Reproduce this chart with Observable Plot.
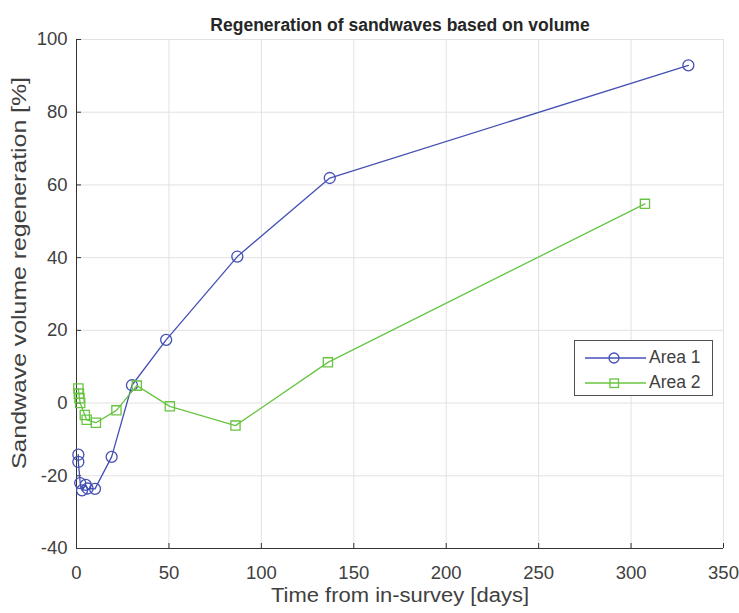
<!DOCTYPE html>
<html>
<head>
<meta charset="utf-8">
<script src="https://cdn.jsdelivr.net/npm/d3@7"></script>
<script src="https://cdn.jsdelivr.net/npm/@observablehq/plot@0.6"></script>
<style>
  html, body { margin: 0; padding: 0; background: #fff; }
  #wrap { position: relative; width: 739px; height: 613px; font-family: "Liberation Sans", Arial, sans-serif; }
  #legend { position: absolute; left: 574px; top: 340px; width: 139px; height: 56px; border: 1px solid #505050; background: #fff; box-sizing: border-box; }
  .row { position: absolute; left: 0; height: 20px; display: flex; align-items: center; font-size: 17.5px; color: #404040; }
  .row svg { margin-left: 10px; margin-right: 3px; }
</style>
</head>
<body>
<div id="wrap"></div>
<script>
// Area 1 (circles)
const area1Days = [1, 1, 2, 3, 5, 6, 10, 19, 30, 48.5, 87, 137, 331];
const area1Regen = [-14.2, -16.2, -22, -24, -22.5, -23.5, -23.6, -14.8, 4.9, 17.4, 40.3, 61.9, 92.9];
// Area 2 (squares)
const area2Days = [1, 1.3, 1.6, 2, 4.5, 5.5, 10.5, 21.6, 32.6, 50.5, 86, 136, 307.5];
const area2Regen = [4, 2.6, 1.3, 0, -3.3, -4.6, -5.4, -2, 4.8, -0.9, -6.2, 11.2, 54.8];

const seriesNames = ["Area 1", "Area 2"];
const seriesColors = ["#4450b4", "#68c441"];
const xTicks = [0, 50, 100, 150, 200, 250, 300, 350];
const yTicks = [-40, -20, 0, 20, 40, 60, 80, 100];

const titleText = "Regeneration of sandwaves based on volume";
const xLabel = "Time from in-survey [days]";
const yLabel = "Sandwave volume regeneration [%]";

const area1 = area1Days.map((d, i) => ({days: d, regen: area1Regen[i]}));
const area2 = area2Days.map((d, i) => ({days: d, regen: area2Regen[i]}));

const font = '"Liberation Sans", Arial, sans-serif';
const textColor = "#404040";
const fmt = d => String(d);

const chart = Plot.plot({
  width: 739,
  height: 613,
  marginLeft: 76,
  marginRight: 16,
  marginTop: 39,
  marginBottom: 65,
  style: {fontFamily: font, fontSize: "18.5px", color: textColor, background: "#fff"},
  x: {domain: [0, 350], ticks: xTicks},
  y: {domain: [-40, 100], ticks: yTicks},
  marks: [
    Plot.gridX(xTicks, {stroke: "#e2e2e2", strokeOpacity: 1}),
    Plot.gridY(yTicks, {stroke: "#e2e2e2", strokeOpacity: 1}),
    Plot.ruleX([0], {stroke: "#333", strokeWidth: 1}),
    Plot.ruleY([-40], {stroke: "#333", strokeWidth: 1}),
    Plot.axisX(xTicks, {tickSize: -5, tickPadding: 22, tickFormat: fmt, stroke: "#333", fill: textColor, fontSize: 18.5, label: null}),
    Plot.axisY(yTicks, {tickSize: -5, tickPadding: 14, tickFormat: fmt, stroke: "#333", fill: textColor, fontSize: 18.5, label: null}),
    Plot.line(area1, {x: "days", y: "regen", stroke: seriesColors[0], strokeWidth: 1.3}),
    Plot.dot(area1, {x: "days", y: "regen", stroke: seriesColors[0], r: 5.5, strokeWidth: 1.3, fill: "none"}),
    Plot.line(area2, {x: "days", y: "regen", stroke: seriesColors[1], strokeWidth: 1.3}),
    Plot.dot(area2, {x: "days", y: "regen", symbol: "square", stroke: seriesColors[1], r: 5.2, strokeWidth: 1.3, fill: "none"}),
    Plot.text([titleText], {frameAnchor: "top", dy: -21, fontSize: 17.5, fontWeight: "bold", fill: "#262626"}),
    Plot.text([xLabel], {frameAnchor: "bottom", dy: 53.5, fontSize: 20, fill: textColor}),
    Plot.text([yLabel], {frameAnchor: "left", textAnchor: "middle", dx: -57.5, dy: -21, rotate: -90, fontSize: 21, fill: textColor})
  ]
});

// stretch the axis titles to the reference's lengths (style only)
chart.querySelectorAll("text").forEach(t => {
  if (t.textContent === yLabel) {
    t.setAttribute("textLength", "392");
    t.setAttribute("lengthAdjust", "spacingAndGlyphs");
  } else if (t.textContent === xLabel) {
    t.setAttribute("textLength", "258");
    t.setAttribute("lengthAdjust", "spacingAndGlyphs");
  }
});

const wrap = document.getElementById("wrap");
wrap.appendChild(chart);

// legend
const legend = document.createElement("div");
legend.id = "legend";
seriesNames.forEach((name, i) => {
  const row = document.createElement("div");
  row.className = "row";
  row.style.top = (i === 0 ? 6.5 : 31.5) + "px";
  const sym = i === 0
    ? `<circle cx="29" cy="10" r="5" fill="none" stroke="${seriesColors[i]}" stroke-width="1.3"/>`
    : `<rect x="25" y="6" width="8.5" height="8.5" fill="none" stroke="${seriesColors[i]}" stroke-width="1.3"/>`;
  row.innerHTML = `<svg width="61" height="20"><line x1="0" x2="61" y1="10" y2="10" stroke="${seriesColors[i]}" stroke-width="1.3"/>${sym}</svg><span>${name}</span>`;
  legend.appendChild(row);
});
wrap.appendChild(legend);
</script>
</body>
</html>
